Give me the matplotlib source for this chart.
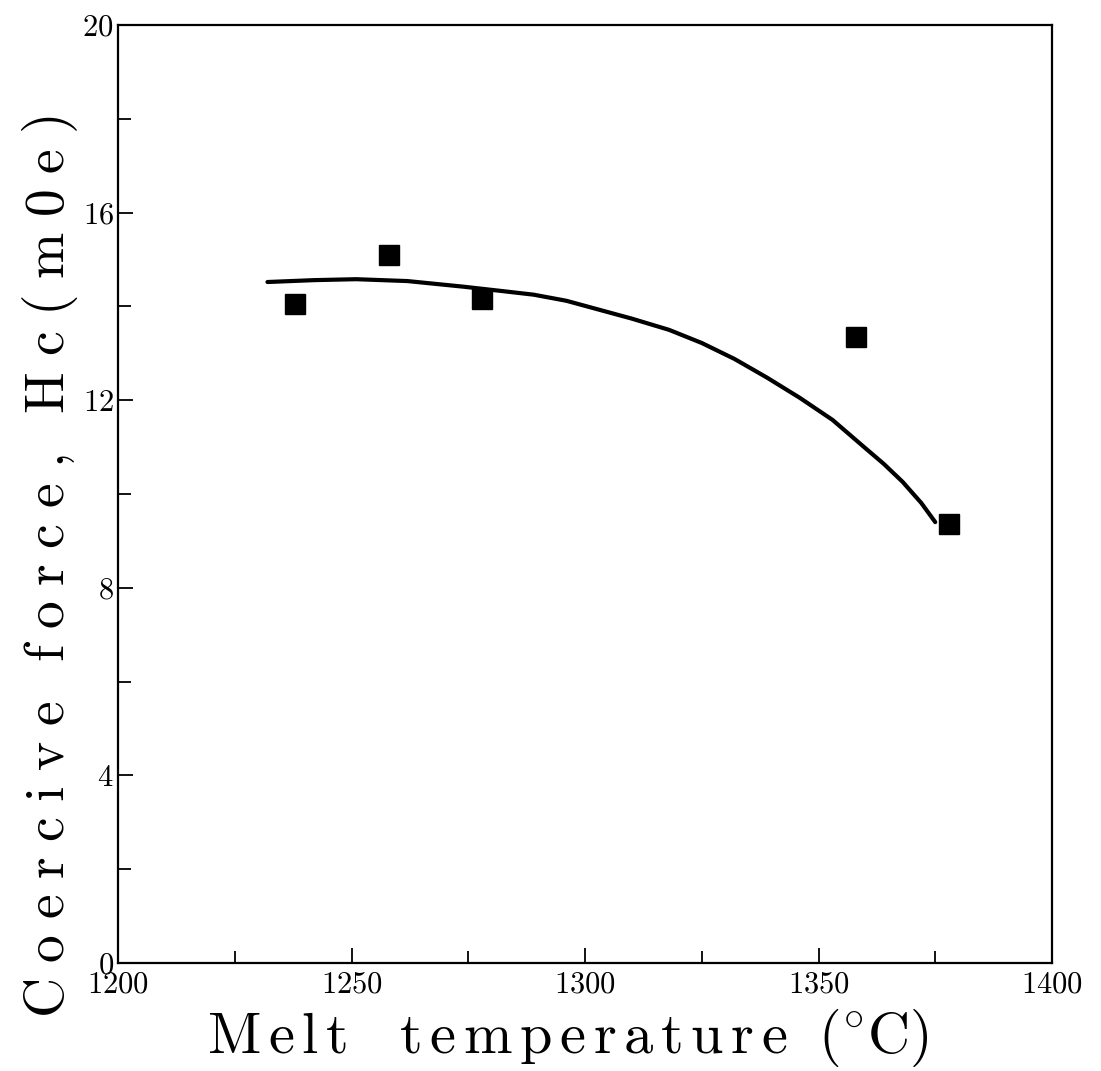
import matplotlib
matplotlib.use("Agg")
import matplotlib.pyplot as plt
from matplotlib.ticker import MultipleLocator

# Measured data points
temp_pts = [1238, 1258, 1278, 1358, 1378]
hc_pts = [14.05, 15.1, 14.15, 13.35, 9.35]

# Fitted curve
curve_t = [1232, 1242, 1251, 1262, 1274, 1282, 1289, 1296, 1303, 1310, 1318, 1325,
           1332, 1339, 1346, 1353, 1360, 1364, 1368, 1372, 1375]
curve_hc = [14.52, 14.56, 14.58, 14.54, 14.42, 14.33, 14.25, 14.12, 13.93, 13.74, 13.5, 13.22,
            12.88, 12.48, 12.05, 11.58, 10.98, 10.64, 10.26, 9.81, 9.4]

xticks = [1200, 1250, 1300, 1350, 1400]
yticks = [0, 4, 8, 12, 16, 20]
xlabel_words = ['Melt', 'temperature']
ylabel_words = ['Coercive', 'force,', 'Hc(m0e)']

plt.rcParams['font.family'] = ['cmr10', 'DejaVu Serif']
plt.rcParams['mathtext.fontset'] = 'cm'
plt.rcParams['axes.formatter.use_mathtext'] = True


def tracked(words, letter_gap, word_gap):
    sep = r'\hspace{%.3f}' % letter_gap
    wsep = r'\hspace{%.3f}' % word_gap
    return wsep.join(sep.join(c if c != ',' else '{,}' for c in w) for w in words)


fig = plt.figure(figsize=(11.01, 10.71), dpi=100)
W, H = 1101, 1071
left, right, top, bottom = 118, 1052, 25, 963
ax = fig.add_axes([left / W, 1 - bottom / H, (right - left) / W, (bottom - top) / H])

ax.plot(curve_t, curve_hc, color='black', lw=3.0, solid_capstyle='round',
        solid_joinstyle='round')
ax.plot(temp_pts, hc_pts, 's', color='black', markersize=14, linestyle='none')

ax.set_xlim(1200, 1400)
ax.set_ylim(0, 20)
ax.set_xticks(xticks)
ax.set_yticks(yticks)
ax.xaxis.set_minor_locator(MultipleLocator(25))
ax.yaxis.set_minor_locator(MultipleLocator(2))
ax.tick_params(which='both', direction='in', top=False, right=False, width=1.3)
ax.tick_params(which='major', length=11, labelsize=22)
ax.tick_params(which='minor', length=9)
ax.tick_params(axis='x', pad=6)
ax.tick_params(axis='y', pad=3)
for s in ax.spines.values():
    s.set_linewidth(1.6)

xl = r'$\mathrm{' + tracked(xlabel_words, 0.15, 1.0) + r'\hspace{0.6}(^{\circ}C)}$'
yl = r'$\mathrm{' + tracked(ylabel_words, 0.32, 0.8) + r'}$'
ax.set_xlabel(xl, fontsize=42)
ax.set_ylabel(yl, fontsize=40)
ax.xaxis.label.set_va('baseline')
ax.yaxis.label.set_va('baseline')
ax.xaxis.set_label_coords((568 - left) / (right - left), -(1053 - bottom) / (bottom - top),
                          transform=ax.transAxes)
ax.yaxis.set_label_coords(-(left - 64) / (right - left), 1 - (566 - top) / (bottom - top),
                          transform=ax.transAxes)

fig.savefig('out.png', dpi=100)
